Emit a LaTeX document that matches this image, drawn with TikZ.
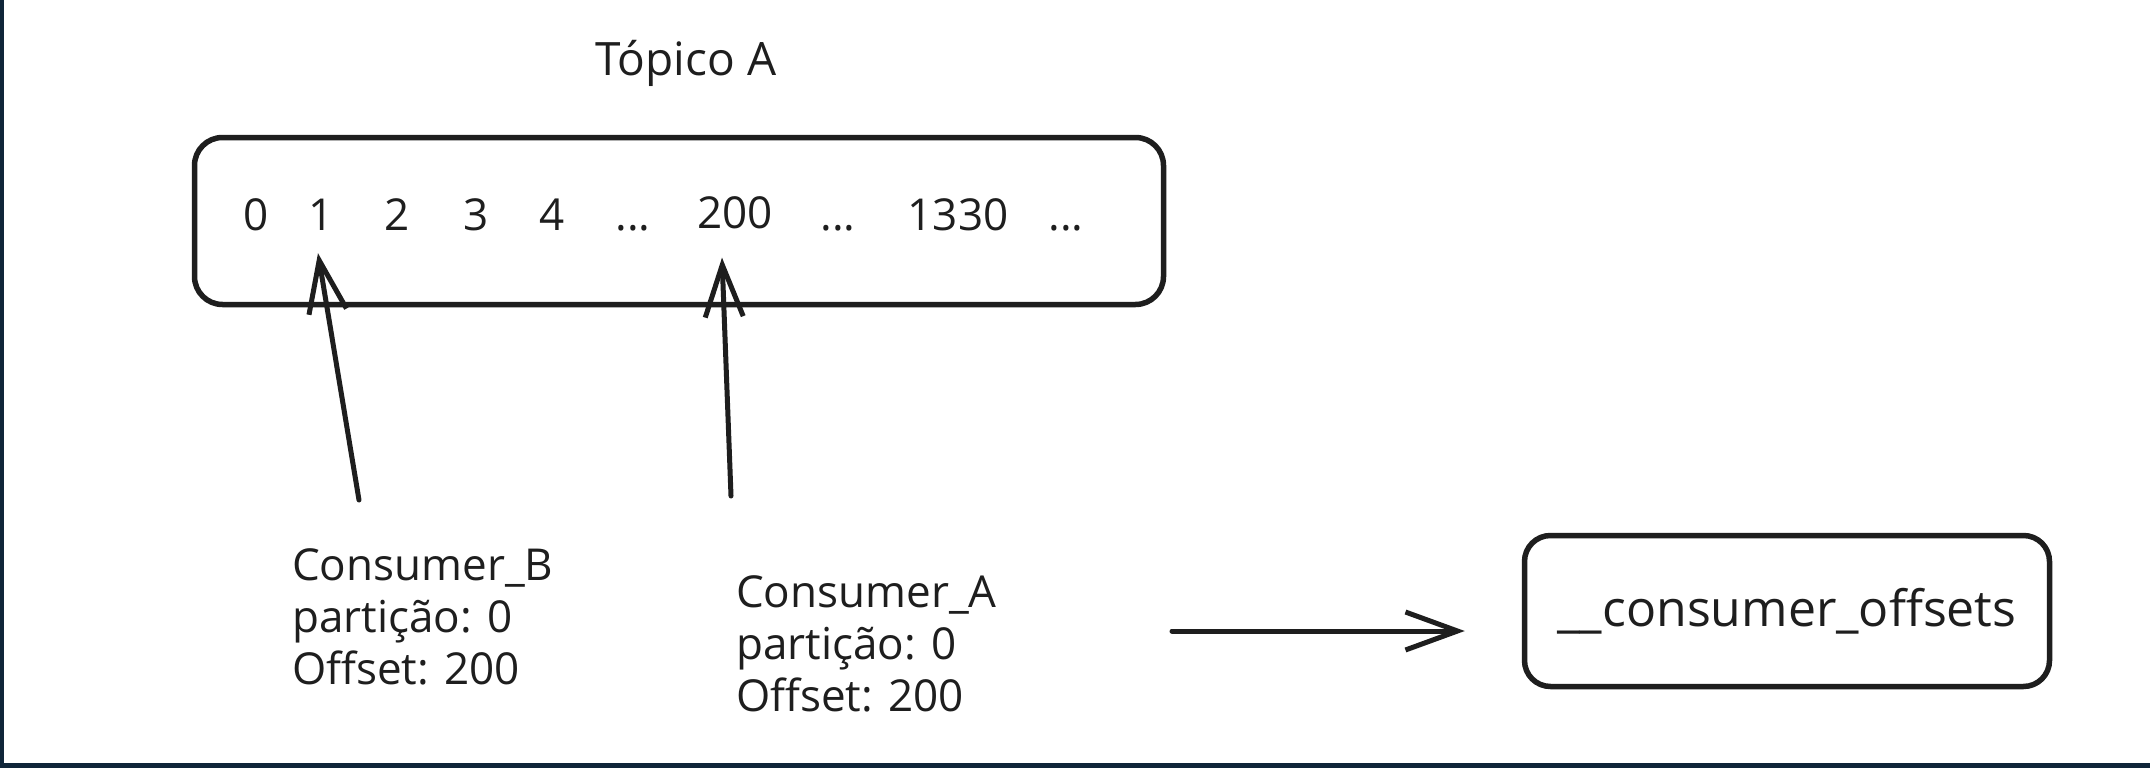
\documentclass[tikz,border=0pt]{standalone}
\usepackage{fontspec}
\setmainfont{Open Sans}
\usetikzlibrary{arrows.meta}
\definecolor{ink}{HTML}{1E1E1E}
\definecolor{framecol}{HTML}{0F2539}
\begin{document}
\begin{tikzpicture}[x=1pt,y=-1pt,
  sketch/.style={draw=ink, line width=5.5pt, rounded corners=28pt, inner sep=0pt},
  arr/.style={draw=ink, line width=5pt, line cap=round,
    -{Straight Barb[length=52pt,width=38pt,line width=5pt]}},
  lbl/.style={inner sep=0pt, text=ink, font=\fontsize{44}{52}\selectfont},
  num/.style={inner sep=0pt, text=ink, font=\fontsize{44}{52}\selectfont, anchor=base},
]
\useasboundingbox (0,0) rectangle (2150,768);
\fill[white] (0,0) rectangle (2150,768);
\fill[framecol] (0,0) rectangle (4,768);
\fill[framecol] (0,763) rectangle (2150,768);

% title
\node[lbl, anchor=base, font=\fontsize{46}{52}\selectfont] (title) at (686,76) {Tópico A};

% topic box
\node[sketch, minimum width=969pt, minimum height=167pt] (topic) at (679,221) {};
\node[num] (n0) at (256,230) {0};
\node[num] (n1) at (321,230) {1};
\node[num] (n2) at (397,230) {2};
\node[num] (n3) at (476,230) {3};
\node[num] (n4) at (552,230) {4};
\node[num] (d1) at (633,230) {...};
\node[num] (n200) at (735,228) {200};
\node[num] (d2) at (838,230) {...};
\node[num] (n1330) at (958,230) {1330};
\node[num] (d3) at (1066,230) {...};

% consumers (base anchor = last line)
\node[lbl, anchor=base west, align=left] (cB) at (292,684) {Consumer\_B\\partição: 0\\Offset: 200};
\node[lbl, anchor=base west, align=left] (cA) at (736,711) {Consumer\_A\\partição: 0\\Offset: 200};

% offsets box
\node[sketch, rounded corners=26pt, minimum width=525pt, minimum height=151pt,
  text=ink, font=\fontsize{50}{56}\selectfont] (off) at (1787,611) {\_\_consumer\_offsets};

% arrows
\coordinate (tailB) at (359,500);
\coordinate (tailA) at (731,496);
\coordinate (tailH) at (1172,631);
\draw[arr] (tailB) -- ([xshift=-3pt,yshift=-23pt]n1.south);
\draw[arr] (tailA) -- ([xshift=-13pt,yshift=-29pt]n200.south);
\draw[arr] (tailH) -- ([xshift=-57pt,yshift=-20pt]off.west);
\end{tikzpicture}
\end{document}
